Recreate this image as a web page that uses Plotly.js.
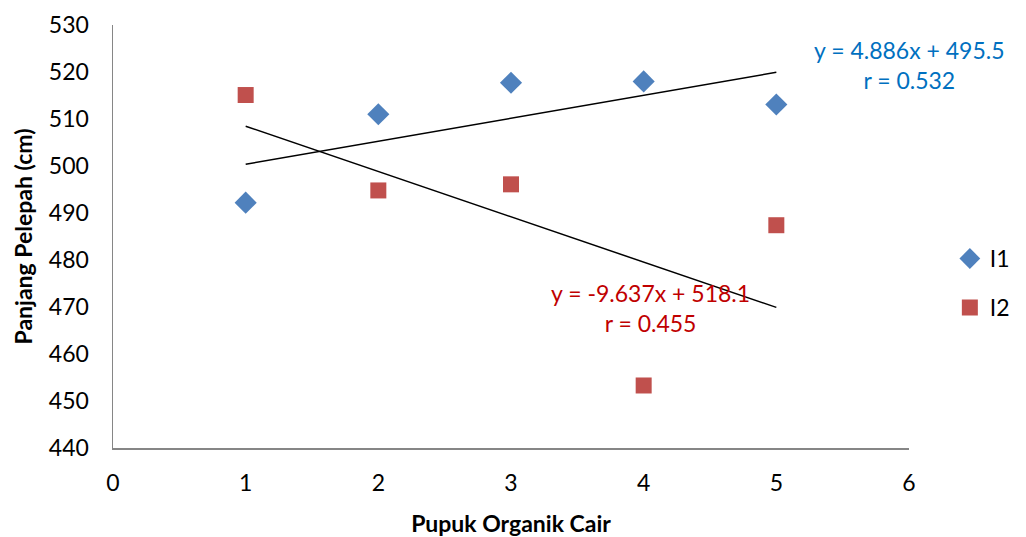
<!DOCTYPE html>
<html>
<head>
<meta charset="utf-8">
<script src="https://cdn.plot.ly/plotly-3.0.1.min.js"></script>
<style>html,body{margin:0;padding:0;background:#fff;}#chart{width:1026px;height:537px;}</style>
</head>
<body>
<div id="chart"></div>
<script>
var xVals = [1, 2, 3, 4, 5];
var i1Vals = [492.2, 511.0, 517.7, 518.0, 513.1];
var i2Vals = [515.1, 494.8, 496.1, 453.3, 487.4];
var seriesNames = ['I1', 'I2'];
var trendSlope = [4.886, -9.637];
var trendIntercept = [495.5, 518.1];
var trendLabels = ['y = 4.886x + 495.5<br>r = 0.532', 'y = -9.637x + 518.1<br>r = 0.455'];
var xTicks = [0, 1, 2, 3, 4, 5, 6];
var yTicks = [440, 450, 460, 470, 480, 490, 500, 510, 520, 530];

var FONT = 'Lato, "Open Sans", sans-serif';

function trend(k) {
  var xs = [xVals[0], xVals[xVals.length - 1]];
  return { x: xs, y: xs.map(function (v) { return trendSlope[k] * v + trendIntercept[k]; }) };
}
var t1 = trend(0), t2 = trend(1);

var data = [
  { x: xVals, y: i1Vals, name: seriesNames[0], type: 'scatter', mode: 'markers',
    legendgroup: 'a',
    marker: { symbol: 'diamond', size: 17, color: '#4F81BD' } },
  { x: xVals, y: i2Vals, name: seriesNames[1], type: 'scatter', mode: 'markers',
    legendgroup: 'b',
    marker: { symbol: 'square', size: 16, color: '#C0504D' } },
  { x: t1.x, y: t1.y, type: 'scatter', mode: 'lines', showlegend: false, hoverinfo: 'skip',
    line: { color: '#000000', width: 1.5 } },
  { x: t2.x, y: t2.y, type: 'scatter', mode: 'lines', showlegend: false, hoverinfo: 'skip',
    line: { color: '#000000', width: 1.5 } }
];

var layout = {
  width: 1026, height: 537,
  margin: { l: 113, r: 116, t: 25, b: 89 },
  paper_bgcolor: '#ffffff', plot_bgcolor: '#ffffff',
  font: { family: FONT, size: 23, color: '#000000' },
  showlegend: true,
  legend: { x: 1.05, xanchor: 'left', y: 0.39, yanchor: 'middle',
    font: { family: FONT, size: 23, color: '#000000' },
    tracegroupgap: 16, traceorder: 'grouped', bgcolor: 'rgba(0,0,0,0)' },
  xaxis: {
    range: [0, 6], tickvals: xTicks, ticktext: xTicks.map(String),
    showgrid: false, zeroline: false, showline: true, linecolor: '#868686', linewidth: 1.5,
    ticks: '', ticklen: 0, ticklabelstandoff: 14, tickfont: { family: FONT, size: 23 },
    title: { text: 'Pupuk Organik Cair', font: { family: FONT, size: 23, weight: 'bold' }, standoff: 23 }
  },
  yaxis: {
    range: [440, 530], tickvals: yTicks, ticktext: yTicks.map(String),
    showgrid: false, zeroline: false, showline: true, linecolor: '#868686', linewidth: 1.5,
    ticks: '', ticklen: 0, ticklabelstandoff: 18, tickfont: { family: FONT, size: 23 },
    title: { text: 'Panjang Pelepah (cm)', font: { family: FONT, size: 23, weight: 'bold' }, standoff: 10 }
  },
  annotations: [
    { x: 1.001, y: 521.4, xref: 'paper', yref: 'y', text: trendLabels[0], showarrow: false,
      align: 'center', xanchor: 'center', font: { family: FONT, size: 23, color: '#0070C0' } },
    { x: 4.05, y: 469.8, xref: 'x', yref: 'y', text: trendLabels[1], showarrow: false,
      align: 'center', font: { family: FONT, size: 23, color: '#C00000' } }
  ]
};

Plotly.newPlot('chart', data, layout, { displayModeBar: false, staticPlot: true });
</script>
</body>
</html>
